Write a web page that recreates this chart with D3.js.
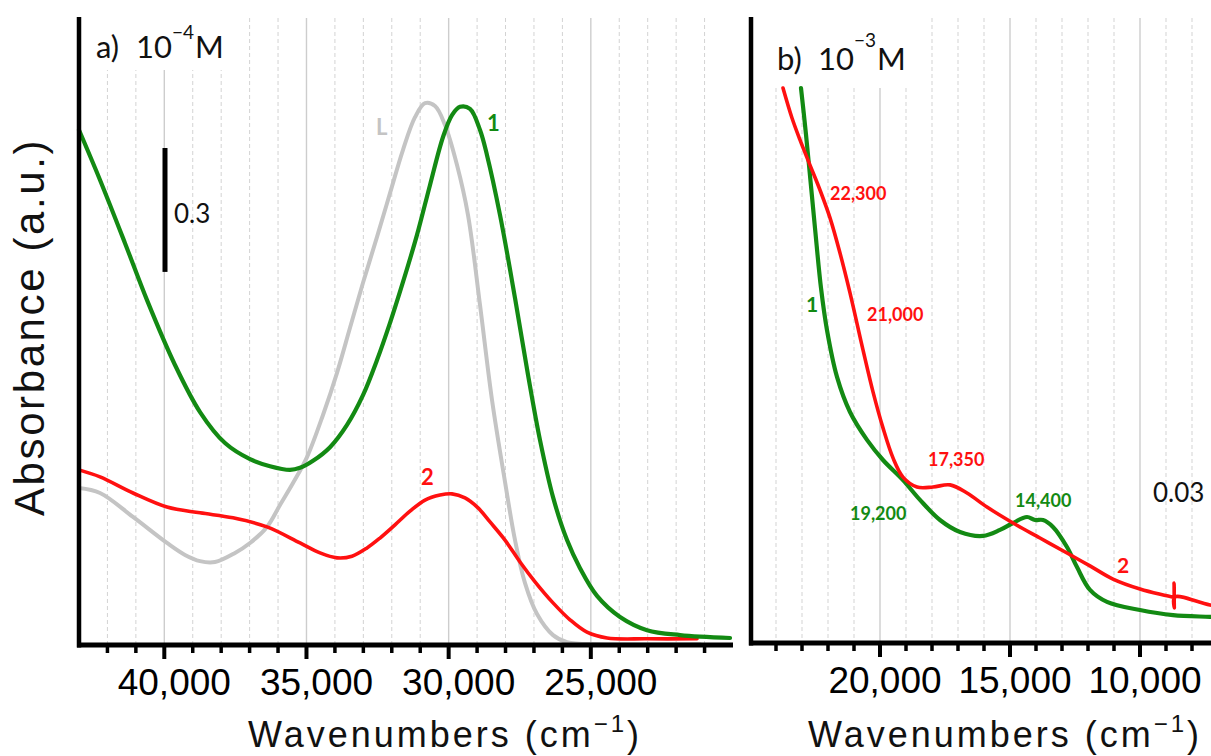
<!DOCTYPE html>
<html><head><meta charset="utf-8">
<script src="https://cdn.jsdelivr.net/npm/d3@7"></script>
<style>html,body{margin:0;padding:0;background:#fff;overflow:hidden}</style>
</head><body>
<svg id="c" width="1211" height="756"></svg>
<script>
// ---------- DATA ----------
// Panel a (10^-4 M): wavenumber (cm-1) and absorbance (a.u.)
const aLigandW = [43000,42261,41101,39905,39272,38744,38217,37513,36986,36388,35931,35474,34981,34419,33926,33469,33012,32519,32062,31605,31183,30831,30479,30128,29706,29319,28897,28475,28018,27666,27314,26892,26329,25837,24676,21159];
const aLigandA = [0.380,0.368,0.310,0.247,0.218,0.203,0.201,0.223,0.247,0.286,0.339,0.392,0.455,0.557,0.659,0.768,0.877,0.988,1.094,1.199,1.278,1.312,1.305,1.259,1.162,1.041,0.823,0.593,0.395,0.254,0.150,0.075,0.024,0.007,0.002,0.002];
const aC1W = [43000,42261,41382,40608,39624,38744,37865,36986,36283,35579,35227,34770,34172,33574,33012,32519,32062,31605,31113,30655,30198,29882,29600,29249,28897,28651,28193,27666,27209,26787,26329,25837,25380,24782,23973,23023,21863,20104];
const aC1A = [1.247,1.126,0.973,0.835,0.678,0.564,0.489,0.450,0.433,0.424,0.429,0.446,0.479,0.533,0.605,0.690,0.780,0.879,0.993,1.114,1.230,1.283,1.303,1.298,1.247,1.186,1.041,0.840,0.654,0.496,0.358,0.254,0.186,0.119,0.068,0.036,0.024,0.017];
const aC2W = [43000,42261,41101,39905,38744,37584,36388,35227,34524,33926,33399,32871,32414,31886,31359,30831,30304,29882,29424,28967,28545,28018,27490,26962,26329,25732,25134,24430,23023,21265];
const aC2A = [0.424,0.407,0.368,0.334,0.320,0.308,0.286,0.247,0.223,0.211,0.215,0.235,0.259,0.291,0.324,0.351,0.363,0.366,0.356,0.332,0.298,0.254,0.201,0.153,0.102,0.061,0.031,0.017,0.015,0.015];

// Panel b (10^-3 M)
const bC1W = [23039,22885,22731,22500,22269,22039,21654,21154,20500,19885,19116,18462,17693,16923,16039,15385,14885,14347,14039,13731,13347,12808,12424,11924,11270,10000,8731,7308,6154];
const bC1A = [0.1850,0.1727,0.1593,0.1383,0.1183,0.1043,0.0887,0.0770,0.0677,0.0610,0.0543,0.0477,0.0410,0.0370,0.0357,0.0377,0.0400,0.0420,0.0410,0.0410,0.0387,0.0320,0.0253,0.0177,0.0137,0.0110,0.0093,0.0087,0.0083];
const bC2W = [23731,23385,23077,22692,22308,21923,21539,21154,20654,20269,19885,19500,19116,18577,17962,17308,16654,15885,14885,13847,12808,11924,11039,10000,8731,8700,8690,8680,8670,7308,6154];
const bC2A = [0.1850,0.1750,0.1677,0.1593,0.1510,0.1417,0.1300,0.1167,0.0977,0.0837,0.0717,0.0617,0.0553,0.0520,0.0520,0.0527,0.0500,0.0453,0.0400,0.0350,0.0300,0.0257,0.0213,0.0180,0.0153,0.0153,0.0200,0.0117,0.0153,0.0127,0.0113];

const aMajorTicks = [40000,35000,30000,25000];
const aTickLabels = ["40,000","35,000","30,000","25,000"];
const aMinorTicks = [42000,41000,39000,38000,37000,36000,34000,33000,32000,31000,29000,28000,27000,26000,24000,23000,22000,21000];
const bMajorTicks = [20000,15000,10000,5000];
const bLabelTicks = [20000,15000,10000];
const bTickLabels = ["20,000","15,000","10,000"];
const bMinorTicks = [24000,23000,22000,21000,19000,18000,17000,16000,14000,13000,12000,11000,9000,8000,7000,6000];
const scaleBarA = 0.3;

// ---------- DRAW ----------
const svg = d3.select("#c");
const GREEN = "#138a13", RED = "#ff1010", GREY = "#c4c4c4";

const xa = d3.scaleLinear().domain([43000,20000]).range([79,733]);
const ya = d3.scaleLinear().domain([0,1]).range([645,232]);
const xb = d3.scaleLinear().domain([25000,5000]).range([750,1270]);
const yb = d3.scaleLinear().domain([0,0.1]).range([643,343]);

function panel(o) {
  const {x, y, baseY, left, right, majors, minors, labelTicks, labels, labelDx, titleBox, series} = o;
  const g = svg.append("g");
  g.selectAll("line.gmin").data(minors).join("line")
    .attr("x1", d=>x(d)).attr("x2", d=>x(d)).attr("y1", 18).attr("y2", baseY)
    .attr("stroke", "#d3d3d3").attr("stroke-width", 1).attr("stroke-dasharray", "4,3");
  g.selectAll("line.gmaj").data(majors).join("line")
    .attr("x1", d=>x(d)).attr("x2", d=>x(d)).attr("y1", 18).attr("y2", baseY)
    .attr("stroke", "#cdcdcd").attr("stroke-width", 1.4);
  g.append("rect").attr("x", left+3).attr("y", 10).attr("width", titleBox[0]).attr("height", titleBox[1]).attr("fill", "#fff");
  const line = d3.line().x(d=>x(d[0])).y(d=>y(d[1])).curve(d3.curveCatmullRom.alpha(0.5));
  series.forEach(s => {
    g.append("path").datum(d3.zip(s.w, s.a)).attr("d", line)
      .attr("fill", "none").attr("stroke", s.color).attr("stroke-width", s.sw)
      .attr("stroke-linejoin", "round").attr("stroke-linecap", "round");
  });
  g.append("line").attr("x1", left).attr("x2", left).attr("y1", 17).attr("y2", baseY+2.5)
    .attr("stroke", "#000").attr("stroke-width", 4.5);
  g.append("line").attr("x1", left-2).attr("x2", right).attr("y1", baseY).attr("y2", baseY)
    .attr("stroke", "#000").attr("stroke-width", 5);
  g.selectAll("line.tmin").data(minors).join("line")
    .attr("x1", d=>x(d)).attr("x2", d=>x(d)).attr("y1", baseY).attr("y2", baseY+8)
    .attr("stroke", "#000").attr("stroke-width", 3.5);
  g.selectAll("line.tmaj").data(majors).join("line")
    .attr("x1", d=>x(d)).attr("x2", d=>x(d)).attr("y1", baseY).attr("y2", baseY+14)
    .attr("stroke", "#000").attr("stroke-width", 4);
  g.selectAll("text.tl").data(labelTicks).join("text")
    .attr("x", d=>x(d)+labelDx).attr("y", baseY+50)
    .attr("text-anchor", "middle").attr("font-family", "Liberation Sans, Arial, sans-serif")
    .attr("font-size", 37).attr("fill", "#000").text((d,i)=>labels[i]);
  const t = g.append("text").attr("x", o.axTitleX).attr("y", 747)
    .attr("font-family", "Liberation Sans, Arial, sans-serif").attr("font-size", 36)
    .attr("letter-spacing", 3).attr("fill", "#111");
  t.append("tspan").text("Wavenumbers (cm");
  t.append("tspan").attr("font-size", 24).attr("dy", -15).text("\u22121");
  t.append("tspan").attr("dy", 15).text(")");
  const h = g.append("text").attr("y", o.titleY).attr("font-family", "Lato, sans-serif")
    .attr("font-size", 31).attr("fill", "#111");
  h.append("tspan").attr("x", o.letterX).text(o.titleLetter);
  h.append("tspan").attr("x", o.tenX).text("10");
  h.append("tspan").attr("font-size", 19).attr("dy", o.supDy).text(o.titleSup);
  h.append("tspan").attr("dy", -o.supDy).attr("dx", 1).text("M");
  return g;
}

panel({x:xa, y:ya, baseY:645, left:79, right:733, majors:aMajorTicks, minors:aMinorTicks,
  labelTicks:aMajorTicks, labels:aTickLabels, labelDx:10, titleBox:[165,60],
  titleLetter:"a)", titleY:58, titleSup:"\u22124", supDy:-19, axTitleX:248, letterX:96, tenX:136,
  series:[
    {w:aLigandW, a:aLigandA, color:GREY, sw:4},
    {w:aC2W, a:aC2A, color:RED, sw:3.6},
    {w:aC1W, a:aC1A, color:GREEN, sw:4.2}
  ]});
panel({x:xb, y:yb, baseY:643, left:751, right:1215, majors:bMajorTicks, minors:bMinorTicks,
  labelTicks:bLabelTicks, labels:bTickLabels, labelDx:5, titleBox:[176,78],
  titleLetter:"b)", titleY:70, titleSup:"\u22123", supDy:-23, axTitleX:808, letterX:777, tenX:818,
  series:[
    {w:bC1W, a:bC1A, color:GREEN, sw:4.2},
    {w:bC2W, a:bC2A, color:RED, sw:3.6}
  ]});

// y axis title
svg.append("text").attr("transform", "translate(44,327) rotate(-90)")
  .attr("text-anchor", "middle").attr("font-family", "Liberation Sans, Arial, sans-serif")
  .attr("font-size", 42).attr("letter-spacing", 2.6).attr("fill", "#111").text("Absorbance (a.u.)");

// scale bar panel a (0.3 a.u.)
const barTop = 148;
svg.append("line").attr("x1", 165).attr("x2", 165)
  .attr("y1", barTop).attr("y2", barTop + (ya(0) - ya(scaleBarA)))
  .attr("stroke", "#000").attr("stroke-width", 5);
svg.append("text").attr("x", 174).attr("y", 223).attr("font-family", "Lato, sans-serif")
  .attr("font-size", 26).attr("fill", "#111").text("0.3");
svg.append("text").attr("x", 1153).attr("y", 502).attr("font-family", "Lato, sans-serif")
  .attr("font-size", 26).attr("fill", "#111").text("0.03");

// curve labels
const lbl = (x, y, t, c, fs) => svg.append("text").attr("x", x).attr("y", y)
  .attr("font-family", "Lato, sans-serif").attr("font-weight", "bold")
  .attr("font-size", fs).attr("fill", c).text(t);
lbl(376, 135, "L", GREY, 22);
lbl(487, 131, "1", GREEN, 22);
lbl(421, 485, "2", RED, 22);
lbl(830, 200, "22,300", RED, 18);
lbl(867, 321, "21,000", RED, 18);
lbl(806, 312, "1", GREEN, 21);
lbl(928, 466, "17,350", RED, 18);
lbl(850, 520, "19,200", GREEN, 18);
lbl(1015, 507, "14,400", GREEN, 18);
lbl(1117, 573, "2", RED, 21);
</script>
</body></html>
